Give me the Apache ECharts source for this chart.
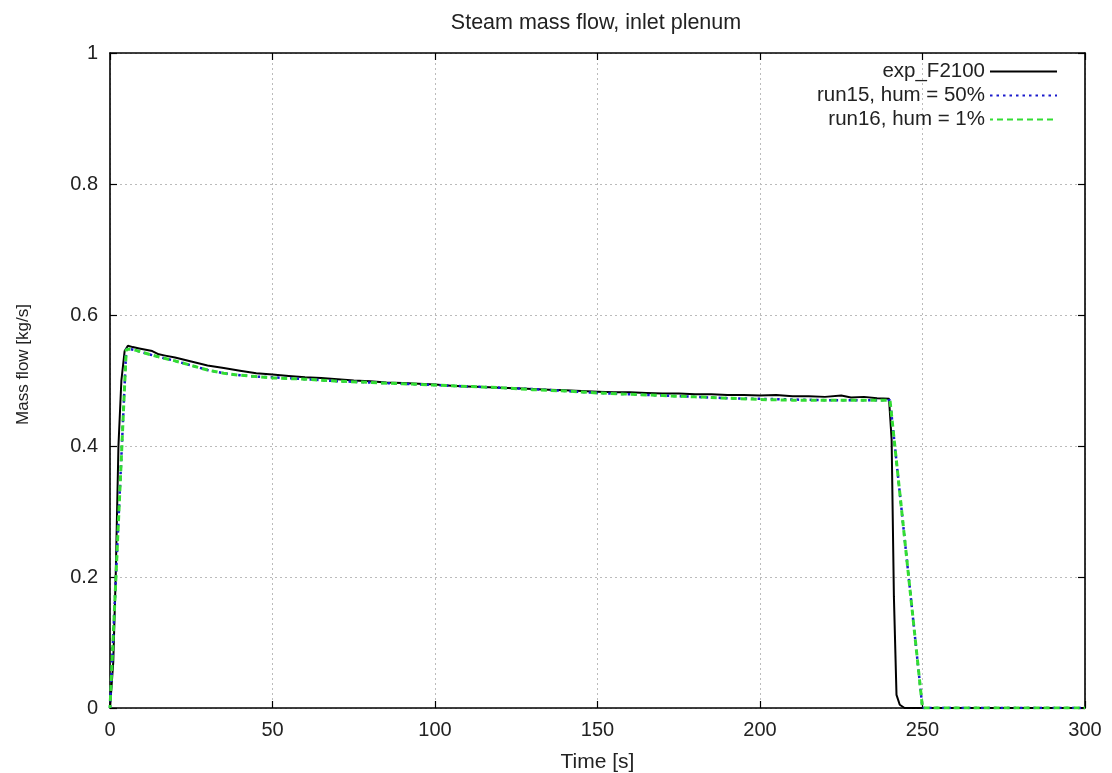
<!DOCTYPE html>
<html>
<head>
<meta charset="utf-8">
<script src="https://cdn.jsdelivr.net/npm/echarts@6/dist/echarts.min.js"></script>
<style>
  html, body { margin: 0; padding: 0; background: #fff; }
  #chart { width: 1112px; height: 773px; }
</style>
</head>
<body>
<div id="chart"></div>
<script>
// Measured steam mass flow (kg/s) at the inlet plenum
const expTime = [0, 1, 1.75, 2.6, 3.5, 4.5, 5.5, 7, 9, 11, 13, 15, 17, 20, 25, 30, 35, 40, 45, 50,
  55, 60, 65, 70, 75, 80, 85, 90, 95, 100, 105, 110, 115, 120, 125, 130, 135, 140, 145, 150,
  155, 160, 165, 170, 175, 180, 185, 190, 195, 200, 205, 210, 215, 220, 225, 228, 232, 236,
  239.7, 240.5, 241.2, 242, 243, 244.5, 300];
const expFlow = [0, 0.07, 0.2, 0.4, 0.5, 0.545, 0.553, 0.551, 0.549, 0.547, 0.545, 0.540, 0.538,
  0.535, 0.529, 0.523, 0.519, 0.515, 0.511, 0.509, 0.507, 0.505, 0.504, 0.502, 0.500, 0.499,
  0.497, 0.496, 0.495, 0.494, 0.492, 0.491, 0.490, 0.489, 0.488, 0.487, 0.486, 0.485, 0.484,
  0.483, 0.482, 0.482, 0.481, 0.480, 0.480, 0.479, 0.479, 0.478, 0.478, 0.477, 0.478, 0.476,
  0.476, 0.475, 0.477, 0.474, 0.475, 0.473, 0.472, 0.41, 0.17, 0.02, 0.005, 0, 0];

// Simulation runs share a common output time base
const simTime = [0, 5, 6, 8, 10, 12, 15, 20, 25, 30, 35, 40, 45, 50, 60, 70, 80, 90, 100, 110,
  120, 130, 140, 150, 160, 170, 180, 190, 200, 210, 220, 230, 240, 250, 260, 270, 280, 290, 300];
const run15Flow = [0, 0.548, 0.548, 0.546, 0.543, 0.540, 0.536, 0.530, 0.523, 0.516, 0.511,
  0.508, 0.506, 0.505, 0.502, 0.499, 0.497, 0.495, 0.493, 0.491, 0.489, 0.487, 0.484, 0.481,
  0.479, 0.477, 0.475, 0.473, 0.472, 0.471, 0.470, 0.470, 0.470, 0, 0, 0, 0, 0, 0];
const run16Flow = [0, 0.547, 0.548, 0.546, 0.543, 0.540, 0.536, 0.530, 0.523, 0.516, 0.511,
  0.508, 0.506, 0.504, 0.502, 0.499, 0.497, 0.495, 0.493, 0.491, 0.489, 0.486, 0.484, 0.481,
  0.479, 0.477, 0.475, 0.473, 0.471, 0.470, 0.470, 0.470, 0.470, 0, 0, 0, 0, 0, 0];

const seriesNames = ['exp_F2100', 'run15, hum = 50%', 'run16, hum = 1%'];
const xTicks = { min: 0, max: 300, interval: 50 };
const yTicks = { min: 0, max: 1, interval: 0.2 };

const pairs = (xs, ys) => xs.map((x, i) => [x, ys[i]]);

const FONT = '"Liberation Sans", Arial, sans-serif';
const TXT = '#222';

const chart = echarts.init(document.getElementById('chart'), null, { renderer: 'canvas' });

const frameLine = { show: true, onZero: false, lineStyle: { color: '#000', width: 1.6 } };
const tickStyle = { show: true, inside: true, length: 7, lineStyle: { color: '#000', width: 1.2 } };
const gridLine = { show: true, lineStyle: { color: '#bbb', type: [2, 3], width: 1 } };

chart.setOption({
  backgroundColor: '#fff',
  animation: false,
  title: {
    text: 'Steam mass flow, inlet plenum',
    left: 591, top: 7, textAlign: 'center',
    textStyle: { fontFamily: FONT, fontSize: 21.5, fontWeight: 'normal', color: TXT }
  },
  legend: {
    orient: 'vertical', right: 49, top: 56, align: 'right',
    itemWidth: 67, itemHeight: 14, itemGap: 3,
    itemStyle: { opacity: 0 },
    textStyle: { fontFamily: FONT, fontSize: 20.5, color: TXT },
    data: seriesNames
  },
  grid: { left: 110, right: 27, top: 53, bottom: 65, outerBoundsMode: 'none' },
  xAxis: [{
    type: 'value', min: xTicks.min, max: xTicks.max, interval: xTicks.interval,
    name: 'Time [s]', nameLocation: 'middle', nameGap: 44,
    nameTextStyle: { fontFamily: FONT, fontSize: 21, color: TXT },
    axisLine: frameLine,
    axisTick: tickStyle,
    axisLabel: { margin: 12, fontFamily: FONT, fontSize: 20, color: TXT },
    splitLine: gridLine
  }, {
    type: 'value', position: 'top', min: xTicks.min, max: xTicks.max, interval: xTicks.interval,
    axisLine: frameLine, axisTick: tickStyle,
    axisLabel: { show: false }, splitLine: { show: false }
  }],
  yAxis: [{
    type: 'value', min: yTicks.min, max: yTicks.max, interval: yTicks.interval,
    name: 'Mass flow [kg/s]', nameLocation: 'middle', nameGap: 78, nameRotate: 90,
    nameTextStyle: { fontFamily: FONT, fontSize: 17, color: TXT, padding: [0, 0, 0, 32] },
    axisLine: frameLine,
    axisTick: tickStyle,
    axisLabel: { margin: 12, fontFamily: FONT, fontSize: 20, color: TXT },
    splitLine: gridLine
  }, {
    type: 'value', position: 'right', min: yTicks.min, max: yTicks.max, interval: yTicks.interval,
    axisLine: frameLine, axisTick: tickStyle,
    axisLabel: { show: false }, splitLine: { show: false }
  }],
  series: [{
    name: seriesNames[0], type: 'line', symbol: 'none', z: 3,
    data: pairs(expTime, expFlow),
    lineStyle: { color: '#000', width: 2 }, itemStyle: { color: '#000' }
  }, {
    name: seriesNames[1], type: 'line', symbol: 'none', z: 4,
    data: pairs(simTime, run15Flow),
    lineStyle: { color: '#1a1acc', width: 2.5, type: [2.5, 4] }, itemStyle: { color: '#1a1acc' }
  }, {
    name: seriesNames[2], type: 'line', symbol: 'none', z: 5,
    data: pairs(simTime, run16Flow),
    lineStyle: { color: '#33dd33', width: 3, type: [6, 4], dashOffset: 3 }, itemStyle: { color: '#33dd33' }
  }]
});
</script>
</body>
</html>
